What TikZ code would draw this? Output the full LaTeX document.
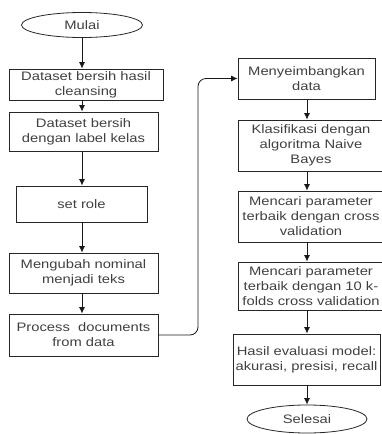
\documentclass[tikz,border=0pt]{standalone}
\usepackage{fontspec}
\setmainfont{Liberation Sans}[FakeStretch=1.2]
\usetikzlibrary{shapes.geometric, arrows.meta}

\tikzset{
  kotak/.style={draw=black!85, line width=0.8pt, align=center, inner sep=1pt,
    text=black!75, font=\fontsize{12.3}{15}\selectfont},
  terminal/.style={ellipse, draw=black!85, line width=0.8pt, inner sep=0pt,
    text=black!75, font=\fontsize{12.3}{15}\selectfont},
  panah/.style={-{Latex[length=6.5pt, width=6pt]}, line width=0.8pt, black!90}
}

\begin{document}
\begin{tikzpicture}[x=1pt, y=-1pt]
        \useasboundingbox (0,0) rectangle (382,434);

        % Nodes, left column
        \node (mulai) [terminal, minimum width=121pt, minimum height=25pt] at (82,25) {Mulai};
        \node (b1) [kotak, minimum width=154pt, minimum height=31pt] at (86,84.5) {Dataset bersih hasil\\cleansing};
        \node (b2) [kotak, minimum width=149pt, minimum height=39pt] at (83.5,131.5) {Dataset bersih\\dengan label kelas};
        \node (b3) [kotak, minimum width=131pt, minimum height=36pt] at (81.5,204) {set role};
        \node (b4) [kotak, minimum width=149pt, minimum height=40pt] at (83.5,273) {Mengubah nominal\\menjadi teks};
        \node (b5) [kotak, minimum width=149pt, minimum height=42pt] at (83.5,335) {Process~ documents\\from data};

        % Nodes, right column
        \node (r1) [kotak, minimum width=137pt, minimum height=41pt] at (306.5,78.5) {Menyeimbangkan\\data};
        \node (r2) [kotak, minimum width=146pt, minimum height=51pt] at (311,145.5) {Klasifikasi dengan\\algoritma Naive\\Bayes};
        \node (r3) [kotak, minimum width=146pt, minimum height=51pt] at (311,216.5) {Mencari parameter\\terbaik dengan cross\\validation};
        \node (r4) [kotak, minimum width=146pt, minimum height=48pt] at (311,286) {Mencari parameter\\terbaik dengan 10 k-\\folds cross validation};
        \node (r5) [kotak, minimum width=147pt, minimum height=51pt] at (306.5,359.5) {Hasil evaluasi model:\\akurasi, presisi, recall};
        \node (selesai) [terminal, minimum width=120pt, minimum height=28pt] at (307,419) {Selesai};

        \coordinate (belok) at (198,200);

        % Edges
        \draw[panah] (mulai.south) -- (mulai.south |- b1.north);
        \draw[panah] (b1.south -| mulai) -- (mulai |- b2.north);
        \draw[panah] (b2.south -| mulai) -- (mulai |- b3.north);
        \draw[panah] (b3.south -| mulai) -- (mulai |- b4.north);
        \draw[panah] (b4.south -| mulai) -- (mulai |- b5.north);
        \draw[panah, rounded corners=8pt] (b5.east) -| (belok) |- (r1.west);
        \draw[panah] (r1.south -| selesai) -- (selesai |- r2.north);
        \draw[panah] (r2.south -| selesai) -- (selesai |- r3.north);
        \draw[panah] (r3.south -| selesai) -- (selesai |- r4.north);
        \draw[panah] (r4.south -| selesai) -- (selesai |- r5.north);
        \draw[panah] (r5.south -| selesai) -- (selesai.north);
    \end{tikzpicture}
\end{document}
